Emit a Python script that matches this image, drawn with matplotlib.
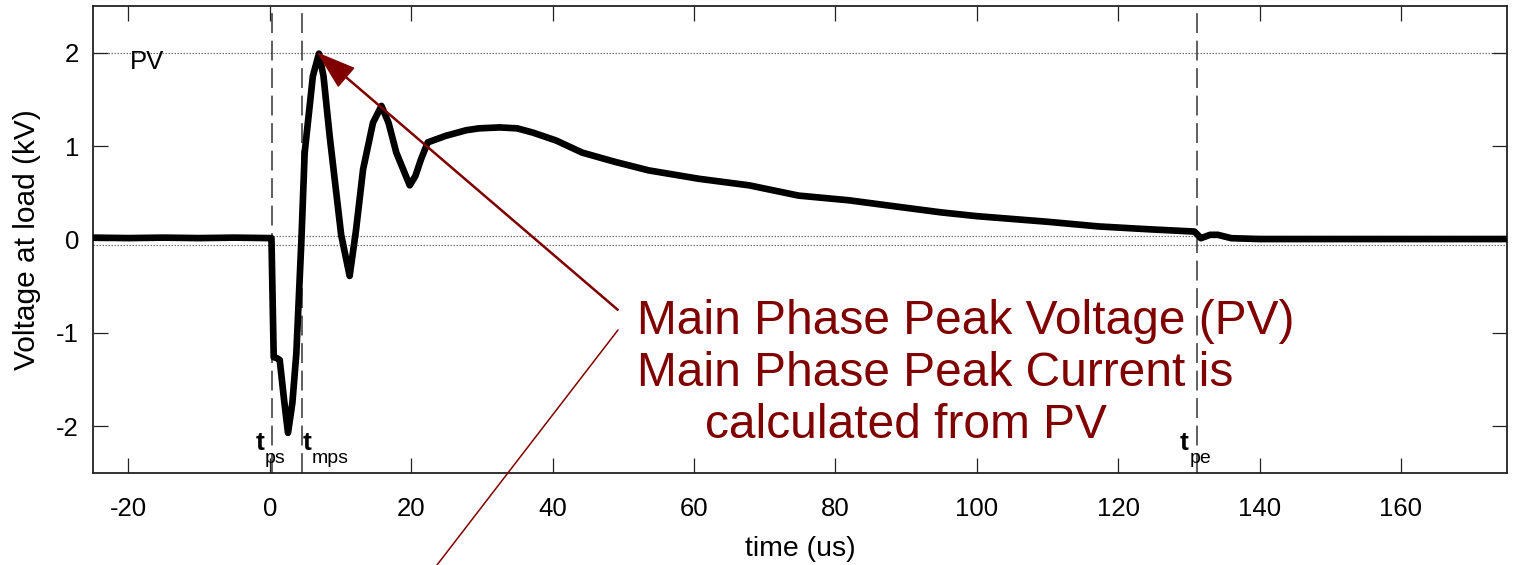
import matplotlib
matplotlib.use("Agg")
import matplotlib.pyplot as plt

plt.rcParams['font.family'] = ['Liberation Sans', 'DejaVu Sans']
plt.rcParams['axes.unicode_minus'] = False

# load voltage trace (time in us, voltage in kV)
t_us = [-25, -20, -15, -10, -5, 0.0, 0.24, 0.56, 1.0, 1.41, 2.0, 2.58, 3.2, 3.76,
        4.47, 4.94, 6.1, 6.96, 7.6, 8.47, 10.1, 11.3, 12.2, 13.2, 14.6, 15.8,
        16.8, 17.9, 19.8, 20.6, 21.4, 22.35, 24.9, 27.8, 29.6, 32.5, 35.0, 37.2,
        40.5, 44.2, 48.9, 53.6, 60.7, 67.8, 74.8, 81.9, 88.9, 95.0, 100.0,
        110.0, 117.2, 124.2, 130.8, 131.7, 133.0, 134.1, 136.0, 140.0, 150.0,
        160.0, 175.0]
volt_kv = [0.02, 0.015, 0.02, 0.015, 0.02, 0.015, 0.014, -1.26, -1.27, -1.29, -1.7,
           -2.07, -1.75, -1.22, -0.02, 0.93, 1.75, 1.99, 1.75, 1.11, 0.05, -0.39,
           0.1, 0.75, 1.25, 1.43, 1.25, 0.93, 0.58, 0.68, 0.86, 1.04, 1.11, 1.17,
           1.19, 1.2, 1.19, 1.145, 1.06, 0.93, 0.83, 0.74, 0.65, 0.58, 0.47, 0.42,
           0.35, 0.29, 0.25, 0.19, 0.14, 0.11, 0.085, 0.014, 0.05, 0.05, 0.014,
           0.005, 0.005, 0.005, 0.005]

pv_level = 2.0
zero_band = [0.04, -0.055]
markers = [0.38, 4.5, 131.2]   # t_ps, t_mps, t_pe
dark_red = '#800000'

fig = plt.figure(figsize=(15.16, 5.65), dpi=100)
ax = fig.add_axes([93 / 1516, 1 - 473 / 565, 1414 / 1516, 467 / 565])

ax.axhline(pv_level, color='#777777', lw=0.9, ls=(0, (1.2, 1.2)), zorder=1)
for y in zero_band:
    ax.axhline(y, color='#777777', lw=0.9, ls=(0, (1.2, 1.2)), zorder=1)
for x in markers:
    ax.axvline(x, color='#333333', lw=1.1, ls=(0, (13, 5)), zorder=1)

ax.plot(t_us, volt_kv, color='black', lw=4.8, solid_joinstyle='round', zorder=3)

ax.set_xlim(-25, 175)
ax.set_ylim(-2.5, 2.5)
ax.set_xticks([-20, 0, 20, 40, 60, 80, 100, 120, 140, 160])
ax.set_yticks([-2, -1, 0, 1, 2])
ax.tick_params(direction='in', top=True, right=True, length=11, width=0.9,
               labelsize=18.5, color='#222222')
ax.tick_params(axis='x', pad=17)
ax.tick_params(axis='y', pad=10)
for s in ax.spines.values():
    s.set_linewidth(1.3)
    s.set_color('#222222')

ax.set_xlabel('time (us)', fontsize=20.5, labelpad=11)
ax.set_ylabel('Voltage at load (kV)', fontsize=21.5, labelpad=11)

# marker labels
ax.text(-19.8, 1.83, 'PV', fontsize=18.5)
ax.text(-0.7, -2.25, 't', fontsize=19, fontweight='bold', ha='right')
ax.text(-0.7, -2.39, 'ps', fontsize=14)
ax.text(4.6, -2.25, 't', fontsize=19, fontweight='bold')
ax.text(5.9, -2.39, 'mps', fontsize=14)
ax.text(128.7, -2.25, 't', fontsize=19, fontweight='bold')
ax.text(130.1, -2.39, 'pe', fontsize=14)

# annotation
ax.annotate('', xy=(6.9, 1.99), xycoords='data',
            xytext=(618 / 1516, 1 - 310 / 565), textcoords='figure fraction',
            arrowprops=dict(color=dark_red, width=0.8, headwidth=17,
                            headlength=26, shrink=0), annotation_clip=False)
ax.annotate('', xy=(437 / 1516, 0), xycoords='figure fraction',
            xytext=(618 / 1516, 1 - 330 / 565), textcoords='figure fraction',
            arrowprops=dict(arrowstyle='-', color=dark_red, lw=1.1,
                            shrinkA=0, shrinkB=0), annotation_clip=False)

fig.text(637 / 1516, 1 - 334 / 565, 'Main Phase Peak Voltage (PV)',
         fontsize=34.5, color=dark_red, va='baseline')
fig.text(637 / 1516, 1 - 386 / 565, 'Main Phase Peak Current is',
         fontsize=34.5, color=dark_red, va='baseline')
fig.text(705 / 1516, 1 - 438 / 565, 'calculated from PV',
         fontsize=34.5, color=dark_red, va='baseline')

fig.savefig('out.png', dpi=100)
